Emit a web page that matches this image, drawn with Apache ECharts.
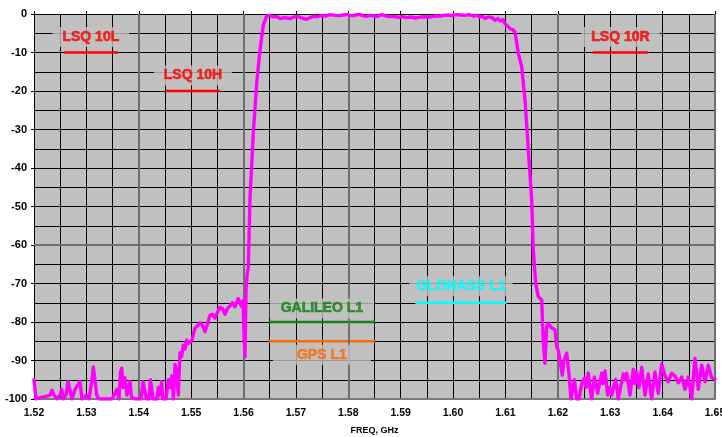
<!DOCTYPE html>
<html><head><meta charset="utf-8">
<script src="https://cdn.jsdelivr.net/npm/echarts@6/dist/echarts.min.js"></script>
<style>html,body{margin:0;padding:0;background:#fff}#c{width:722px;height:437px}</style>
</head><body><div id="c"></div>
<script>
// ---- data ----
const freqGHz = [
1.52000,1.52038,1.52153,1.52229,1.52305,1.52344,1.52382,1.52439,1.52496,1.52529,
1.52554,1.52611,1.52649,1.52687,1.52725,1.52783,1.52821,1.52878,1.52916,1.53006,
1.53050,1.53107,1.53132,1.53164,1.53197,1.53241,1.53413,1.53451,1.53489,1.53579,
1.53623,1.53651,1.53674,1.53699,1.53737,1.53775,1.53833,1.53861,1.53896,1.53928,
1.54043,1.54081,1.54119,1.54148,1.54195,1.54224,1.54247,1.54272,1.54348,1.54373,
1.54405,1.54438,1.54462,1.54520,1.54564,1.54596,1.54629,1.54663,1.54692,1.54724,
1.54755,1.54787,1.54816,1.54850,1.54882,1.54915,1.54949,1.55010,1.55045,1.55073,
1.55121,1.55169,1.55216,1.55264,1.55312,1.55360,1.55407,1.55455,1.55503,1.55551,
1.55598,1.55646,1.55694,1.55741,1.55789,1.55837,1.55866,1.55900,1.55932,1.55965,
1.55990,1.56014,1.56028,1.56047,1.56066,1.56091,1.56123,1.56186,1.56251,1.56314,
1.56377,1.56442,1.56492,1.56568,1.56629,1.56696,1.56791,1.56887,1.56944,1.57015,
1.57110,1.57206,1.57269,1.57332,1.57402,1.57492,1.57574,1.57650,1.57746,1.57841,
1.57898,1.57969,1.58032,1.58095,1.58166,1.58223,1.58280,1.58351,1.58414,1.58477,
1.58548,1.58637,1.58719,1.58796,1.58872,1.58954,1.59025,1.59114,1.59197,1.59273,
1.59349,1.59431,1.59502,1.59592,1.59674,1.59750,1.59826,1.59909,1.59979,1.60069,
1.60151,1.60227,1.60304,1.60386,1.60456,1.60514,1.60571,1.60609,1.60666,1.60705,
1.60762,1.60800,1.60857,1.60895,1.60953,1.60991,1.61029,1.61086,1.61144,1.61182,
1.61245,1.61310,1.61373,1.61436,1.61501,1.61531,1.61577,1.61627,1.61691,1.61722,
1.61754,1.61787,1.61817,1.61850,1.61879,1.61913,1.61945,1.61978,1.62008,1.62041,
1.62085,1.62117,1.62169,1.62213,1.62251,1.62289,1.62314,1.62360,1.62404,1.62455,
1.62505,1.62537,1.62581,1.62613,1.62646,1.62696,1.62728,1.62760,1.62837,1.62862,
1.62900,1.62951,1.62986,1.63028,1.63062,1.63104,1.63154,1.63196,1.63249,1.63282,
1.63314,1.63377,1.63440,1.63473,1.63505,1.63549,1.63601,1.63663,1.63726,1.63791,
1.63854,1.63917,1.63982,1.64045,1.64108,1.64173,1.64236,1.64299,1.64364,1.64427,
1.64490,1.64555,1.64618,1.64681,1.64746,1.64809,1.64872,1.64937,1.65000
];
const responseDb = [
-95,-100,-99.5,-99.3,-99,-97.7,-99,-100,-99,-97.5,
-100,-99,-95.5,-95.8,-100,-97.5,-98,-95.5,-100,-99,
-100,-95,-91.7,-95,-99,-100,-100,-99.5,-100,-97.5,
-100,-93,-92,-97,-94.5,-99,-95.5,-99.5,-99,-100,
-100,-95.5,-95,-100,-100,-95,-94.5,-100,-100,-97,
-99,-95.5,-100,-100,-95,-97,-94,-100,-91,-93,
-99,-88,-89,-86,-87,-84.7,-85.5,-85,-83,-81.6,
-81,-80.2,-80.8,-82.5,-80.5,-78.2,-78,-79,-77.5,-76.2,
-76.5,-78,-76.5,-75.8,-75,-76,-75.5,-73.9,-75,-76,
-74.5,-85,-89,-72,-68,-65.7,-48,-31,-18,-9.4,
-2.9,-0.5,-0.35,-0.78,-0.6,-1.2,-0.95,-1.2,-0.87,-0.6,
-1.04,-1.39,-0.95,-0.6,-0.7,-0.43,-0.52,-0.17,-0.35,-0.43,
-0.26,-0.09,-0.35,-0.43,-0.17,-0.17,-0.43,-0.6,-0.35,-0.43,
-0.6,-0.17,-0.52,-0.7,-0.6,-0.87,-0.7,-0.95,-0.78,-1.04,
-0.87,-0.7,-0.78,-0.7,-0.52,-0.52,-0.35,-0.26,-0.43,-0.17,
-0.26,-0.35,-0.17,-0.52,-0.35,-0.78,-0.6,-1.2,-0.78,-0.78,
-1.13,-1.65,-1.2,-1.8,-1.47,-2.5,-2.1,-3.8,-4.1,-4.7,
-10.2,-13.7,-22.3,-35.3,-48.3,-61.3,-70,-73.4,-74.3,-85,
-90.7,-81.2,-80.3,-80.3,-81.5,-82,-82,-86.4,-87.3,-87.3,
-93.8,-90,-88.1,-93.5,-100,-97,-95,-100,-100,-96,
-94.6,-97,-93.3,-97,-100,-94.3,-96,-98.5,-93.3,-96,
-92.7,-99,-97,-99,-97,-94.9,-100,-97,-93.5,-95,
-93.3,-99,-92.3,-96,-93,-97,-91.8,-99,-93.5,-100,
-93,-98.5,-90.9,-94,-95.5,-93.3,-94,-95.8,-94.3,-97.5,
-94.3,-100,-89.4,-97.5,-91.2,-95.5,-91.2,-94.5,-94.9
];
const bandNames = ['LSQ 10L','LSQ 10H','LSQ 10R','GALILEO L1','GPS L1','GLONASS L1'];
const bandStart = [1.5257,1.5452,1.6267,1.5648,1.5648,1.5928];
const bandEnd   = [1.5360,1.5555,1.6372,1.5851,1.5851,1.6102];
const bandLevel = [-10,-20,-10,-80,-85,-75];
const refLinesX = [1.54,1.565,1.585,1.62,1.65];
const refLinesY = [-60];

// ---- styles ----
const bandColors = ['#ff0000','#ff0000','#ff0000','#128312','#ff6a00','#00ffff'];
const bandLabelSide = ['top','top','top','top','bottom','top'];
const bandLabelGap = [5,5,5,3,3,6];
const bandPad = [[2,10],[2,10],[2,10],[2,11],[2,24],[2,7]];

const FONT = "'Liberation Sans', Arial, Helvetica, sans-serif";
const curve = freqGHz.map((f,i)=>[f,responseDb[i]]);

const series = [];
series.push({
  type:'line', data:[], z:1, silent:true,
  markLine:{silent:true, symbol:['none','none'], animation:false,
    lineStyle:{color:'#6e6e6e', width:2, type:'solid'}, label:{show:false},
    data:[...refLinesX.map(v=>({xAxis:v})), ...refLinesY.map(v=>({yAxis:v}))]}
});
series.push({
  type:'line', data:curve, z:5, symbol:'none', smooth:false, clip:true,
  lineStyle:{color:'#ff00ff', width:3.4, join:'round', cap:'round'}, animation:false
});
bandNames.forEach((n,i)=>{
  series.push({type:'line', z:4, symbol:'none', animation:false,
    data:[[bandStart[i],bandLevel[i]],[bandEnd[i],bandLevel[i]]],
    lineStyle:{color:bandColors[i], width:2.5}});
});
series.push({
  type:'scatter', z:6, symbolSize:1, itemStyle:{color:'rgba(0,0,0,0)'}, animation:false,
  data: bandNames.map((n,i)=>({
    value:[(bandStart[i]+bandEnd[i])/2, bandLevel[i]],
    label:{show:true, formatter:n, position:bandLabelSide[i], distance:bandLabelGap[i],
      color:bandColors[i], fontSize:14, fontWeight:'bold', fontFamily:FONT,
      textBorderColor:bandColors[i], textBorderWidth:0.6,
      backgroundColor:'#c0c0c0', padding:bandPad[i], lineHeight:16}
  }))
});

const chart = echarts.init(document.getElementById('c'));
chart.setOption({
  animation:false,
  backgroundColor:'#ffffff',
  grid:{left:34, right:7, top:14, bottom:38, show:true, backgroundColor:'#c0c0c0', borderWidth:0,
    containLabel:false, outerBoundsMode:'none'},
  xAxis:[{
    type:'value', min:1.52, max:1.65, interval:0.01, position:'bottom',
    name:'FREQ, GHz', nameLocation:'middle', nameGap:27,
    nameTextStyle:{color:'#000', fontSize:9, fontWeight:'bold', fontFamily:FONT},
    axisLine:{show:true, onZero:false, lineStyle:{color:'#7a7a7a', width:2}},
    axisTick:{show:false},
    axisLabel:{color:'#000', fontSize:10.5, fontWeight:'bold', fontFamily:FONT, margin:9,
      formatter:v=>v.toFixed(2)},
    splitLine:{show:true, lineStyle:{color:'#000', width:1}},
    minorTick:{show:false, splitNumber:2},
    minorSplitLine:{show:true, lineStyle:{color:'#000', width:1}}
  },{
    type:'value', min:1.52, max:1.65, interval:0.01, position:'top',
    axisLine:{show:true, onZero:false, lineStyle:{color:'#000', width:1}},
    axisTick:{show:true, inside:false, length:3, lineStyle:{color:'#000'}},
    axisLabel:{show:false}, splitLine:{show:false}
  }],
  yAxis:{
    type:'value', min:-100, max:0, interval:10,
    axisLine:{show:true, onZero:false, lineStyle:{color:'#000', width:1}},
    axisTick:{show:true, length:3, lineStyle:{color:'#000'}},
    axisLabel:{color:'#000', fontSize:11, fontWeight:'bold', fontFamily:FONT, margin:7},
    splitLine:{show:true, lineStyle:{color:'#000', width:1}},
    minorTick:{show:false, splitNumber:2},
    minorSplitLine:{show:true, lineStyle:{color:'#000', width:1}}
  },
  series
});
</script></body></html>
